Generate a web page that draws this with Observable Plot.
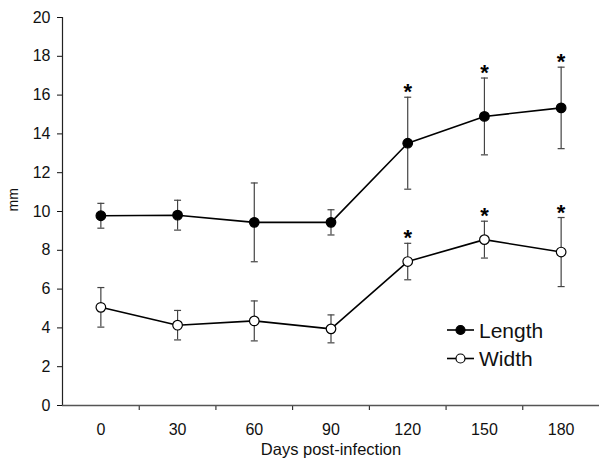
<!DOCTYPE html>
<html><head><meta charset="utf-8">
<script src="https://cdn.jsdelivr.net/npm/d3@7"></script>
<script src="https://cdn.jsdelivr.net/npm/@observablehq/plot@0.6"></script>
<style>
body{margin:0;background:#fff;font-family:Arial,"Liberation Sans",sans-serif}
#chart{position:relative;width:600px;height:462px}
</style>
</head><body><div id="chart"></div>
<script>
const days = [0, 30, 60, 90, 120, 150, 180];
const lengthMean = [9.78, 9.81, 9.44, 9.44, 13.52, 14.9, 15.34];
const lengthErr = [0.64, 0.77, 2.03, 0.65, 2.37, 1.98, 2.1];
const widthMean = [5.06, 4.14, 4.36, 3.95, 7.42, 8.55, 7.91];
const widthErr = [1.02, 0.76, 1.03, 0.72, 0.94, 0.95, 1.78];
const significant = [false, false, false, false, true, true, true];
const seriesNames = ["Length", "Width"];
const seriesFills = ["black", "white"];
const yTicks = [0, 2, 4, 6, 8, 10, 12, 14, 16, 18, 20];
const xDomain = [-15, 195];
const yDomain = [0, 20];
const xBoundaryTicks = [15, 45, 75, 105, 135, 165];
const xLabel = "Days post-infection";
const yLabel = "mm";

const rows = [];
[[lengthMean, lengthErr], [widthMean, widthErr]].forEach(([m, e], s) => {
  days.forEach((d, i) => rows.push({
    series: seriesNames[s], day: d, mean: m[i], lo: m[i] - e[i], hi: m[i] + e[i], sig: significant[i]
  }));
});

const capSymbol = {
  draw(ctx, size) {
    const r = Math.sqrt(size / Math.PI);
    ctx.moveTo(-r, 0); ctx.lineTo(r, 0);
  }
};

const font = "Arial, 'Liberation Sans', sans-serif";
const plot = Plot.plot({
  width: 600, height: 462,
  marginLeft: 62, marginRight: 1, marginTop: 17, marginBottom: 57,
  style: {fontFamily: font, fontSize: "16px", color: "#111", background: "white"},
  x: {domain: xDomain},
  y: {domain: yDomain},
  marks: [
    Plot.axisY({ticks: yTicks, tickSize: 5, tickPadding: 7, fontSize: 16, label: null}),
    Plot.text([yLabel], {frameAnchor: "left", dx: -49, rotate: -90, fontSize: 14, fill: "#111"}),
    Plot.axisX({ticks: days, tickSize: 0, tickPadding: 18, fontSize: 16, label: null}),
    Plot.text([xLabel], {frameAnchor: "bottom", dy: 49, fontSize: 16.5, fill: "#111"}),
    Plot.axisX({ticks: xBoundaryTicks, tickSize: 5, tickFormat: () => "", label: null}),
    Plot.ruleX([xDomain[0]], {stroke: "#222", strokeWidth: 1.2}),
    Plot.ruleY([yDomain[0]], {stroke: "#555", strokeWidth: 1.4}),
    Plot.ruleX(rows, {x: "day", y1: "lo", y2: "hi", stroke: "#444", strokeWidth: 1.2}),
    Plot.dot(rows, {x: "day", y: "lo", symbol: capSymbol, r: 3.5, stroke: "#444", strokeWidth: 1.2}),
    Plot.dot(rows, {x: "day", y: "hi", symbol: capSymbol, r: 3.5, stroke: "#444", strokeWidth: 1.2}),
    Plot.line(rows, {x: "day", y: "mean", z: "series", stroke: "black", strokeWidth: 1.6}),
    Plot.dot(rows, {x: "day", y: "mean", r: 4.8, stroke: "black", strokeWidth: 1.2,
      fill: d => seriesFills[seriesNames.indexOf(d.series)]}),
    Plot.text(rows.filter(d => d.sig), {x: "day", y: "hi", text: () => "*", lineAnchor: "bottom", dy: 2,
      fontSize: 22, fontWeight: "bold", fill: "black"})
  ]
});
document.getElementById("chart").appendChild(plot);

// legend inside the plot area
const svg = d3.select(plot);
const lg = svg.append("g").attr("font-family", font).attr("text-anchor", "start");
seriesNames.forEach((name, i) => {
  const y = 330 + i * 28.5;
  const g = lg.append("g").attr("transform", `translate(447,${y})`);
  g.append("line").attr("x1", 0).attr("x2", 27).attr("y1", 0).attr("y2", 0).attr("stroke", "black").attr("stroke-width", 1.6);
  g.append("circle").attr("cx", 13.5).attr("cy", 0).attr("r", 4.5).attr("fill", seriesFills[i]).attr("stroke", "black").attr("stroke-width", 1.2);
  g.append("text").attr("x", 32).attr("y", 0).attr("dy", "0.36em").attr("font-size", 21).attr("fill", "#111").text(name);
});
</script>
</body></html>
